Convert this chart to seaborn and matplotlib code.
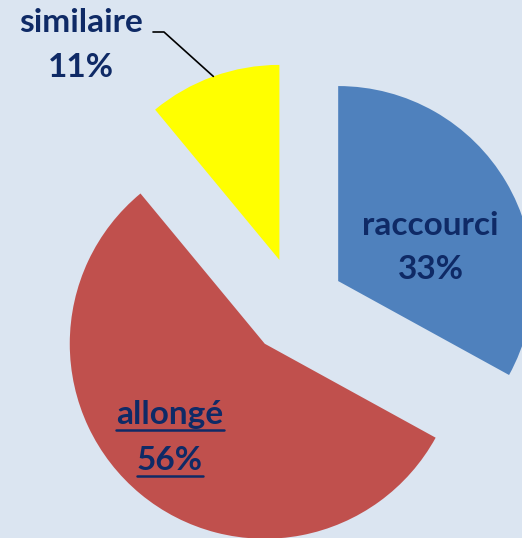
import numpy as np
import matplotlib
matplotlib.use("Agg")
import matplotlib.pyplot as plt
import seaborn as sns
from matplotlib.lines import Line2D

# data
categories = ["raccourci", "allongé", "similaire"]
shares = [33, 56, 11]
slice_colors = ["#4F81BD", "#C0504D", "#FFFF00"]

sns.set_theme(style="white")
plt.rcParams['font.family'] = ['Lato', 'DejaVu Sans']

W, H = 522, 538
fig = plt.figure(figsize=(W / 100, H / 100), dpi=100)
bg = "#DBE5F1"
fig.patch.set_facecolor(bg)
ax = fig.add_axes([0, 0, 1, 1])
ax.set_facecolor(bg)

radius = 195
center = (296, H - 306)
# matplotlib's explode is an absolute offset in data units
wedges, _ = ax.pie(shares, colors=sns.color_palette(slice_colors), startangle=90,
                   counterclock=False, radius=radius, center=center,
                   explode=[49] * 3, wedgeprops=dict(linewidth=0))
ax.set_xlim(0, W)
ax.set_ylim(0, H)
ax.set_aspect("equal")
ax.axis("off")

navy = "#0F2A66"
fs = 24
# label baselines (pixels from top-left), one pair per slice
label_pos = {
    "raccourci": [(430, 235), (431, 279)],
    "allongé": [(170, 424), (170, 470)],
    "similaire": [(81, 32), (81, 77)],
}
texts = {}
for cat, val in zip(categories, shares):
    (x1, y1), (x2, y2) = label_pos[cat]
    t1 = ax.text(x1, H - y1, cat, ha="center", va="baseline", fontsize=fs,
                 fontweight="bold", color=navy)
    t2 = ax.text(x2, H - y2, f"{val}%", ha="center", va="baseline", fontsize=fs,
                 fontweight="bold", color=navy)
    texts[cat] = (t1, t2)

# underline the "allongé" label, a few pixels under the baseline
fig.canvas.draw()
r = fig.canvas.get_renderer()
for t, (_, yb) in zip(texts["allongé"], label_pos["allongé"]):
    bb = t.get_window_extent(renderer=r)
    y = (H - yb - 6) / H
    fig.add_artist(Line2D([bb.x0 / W, bb.x1 / W], [y, y],
                          color=navy, linewidth=1.8))

# leader line from the yellow slice edge to its label
w = wedges[2]
mid = np.deg2rad((w.theta1 + w.theta2) / 2)
cx, cy = w.center
ex, ey = cx + w.r * np.cos(mid), cy + w.r * np.sin(mid)
ax.plot([ex, 164, 153], [ey, H - 32, H - 32], color="black", linewidth=1.2)

fig.savefig("out.png", dpi=100, facecolor=bg)
